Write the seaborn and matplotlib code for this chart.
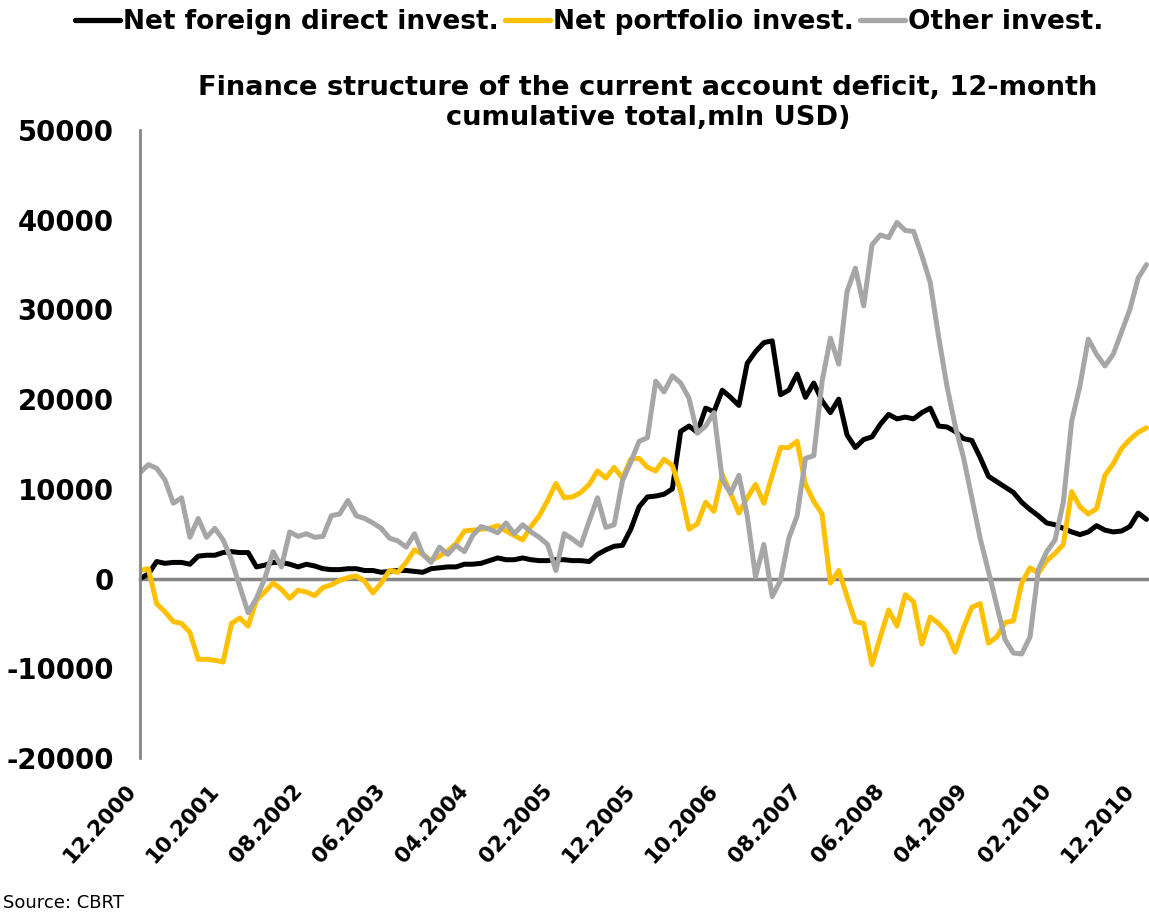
import matplotlib
matplotlib.use('Agg')
import matplotlib.pyplot as plt
import numpy as np
import pandas as pd
import seaborn as sns
from matplotlib.lines import Line2D

# 12-month cumulative totals, mln USD, monthly from 12.2000
fdi = [0, 500, 1900, 1700, 1800, 1800, 1600, 2500, 2600, 2600,
       2900, 3000, 2900, 2900, 1300, 1500, 1800, 1800, 1600, 1300,
       1600, 1400, 1100, 1000, 1000, 1100, 1100, 900, 900, 700,
       800, 900, 900, 800, 700, 1100, 1200, 1300, 1300, 1600,
       1600, 1700, 2000, 2300, 2100, 2100, 2300, 2100, 2000, 2000,
       2100, 2100, 2000, 2000, 1900, 2700, 3200, 3600, 3700, 5500,
       8000, 9100, 9200, 9400, 10000, 16400, 17000, 16300, 19000, 18600,
       21000, 20200, 19300, 24000, 25300, 26300, 26500, 20500, 21000, 22800,
       20200, 21800, 19800, 18500, 20000, 16000, 14600, 15500, 15800, 17200,
       18300, 17800, 18000, 17800, 18500, 19000, 17000, 16900, 16400, 15600,
       15400, 13500, 11400, 10800, 10200, 9600, 8500, 7700, 7000, 6200,
       6000, 5600, 5200, 4900, 5200, 5900, 5400, 5200, 5300, 5800,
       7300, 6600]

portfolio = [900, 1100, -2800, -3700, -4800, -5000, -6000, -9000, -9000, -9100,
             -9300, -5000, -4400, -5300, -2400, -1500, -500, -1200, -2200, -1300,
             -1500, -1900, -1000, -700, -200, 100, 300, -300, -1600, -500,
             900, 700, 1800, 3200, 2700, 2000, 2500, 3100, 3900, 5300,
             5400, 5500, 5600, 5900, 5300, 4800, 4300, 5800, 7000, 8700,
             10600, 9000, 9100, 9600, 10500, 12000, 11200, 12400, 11200, 13300,
             13400, 12400, 12000, 13300, 12600, 9700, 5500, 6100, 8500, 7500,
             11600, 9500, 7300, 9000, 10500, 8400, 11500, 14600, 14600, 15300,
             10500, 8600, 7200, -500, 900, -2000, -4800, -5000, -9600, -6500,
             -3500, -5300, -1800, -2600, -7300, -4300, -5000, -6000, -8200, -5500,
             -3200, -2800, -7200, -6500, -4900, -4700, -500, 1200, 600, 2000,
             2800, 3800, 9700, 8000, 7200, 7800, 11500, 12800, 14500, 15500,
             16300, 16800]

other = [11800, 12700, 12300, 11000, 8400, 9000, 4600, 6700, 4600, 5600,
         4300, 2100, -900, -3800, -2200, 0, 3000, 1300, 5200, 4700,
         5000, 4600, 4700, 7000, 7200, 8700, 7000, 6700, 6200, 5600,
         4500, 4200, 3500, 5000, 2700, 1800, 3500, 2700, 3700, 3000,
         4800, 5800, 5500, 5100, 6200, 5000, 6000, 5200, 4600, 3800,
         900, 5000, 4400, 3700, 6400, 9000, 5700, 6000, 10900, 13000,
         15300, 15700, 22000, 20800, 22600, 21800, 20100, 16200, 17000, 18500,
         11000, 9500, 11500, 7000, 200, 3800, -2000, -200, 4500, 7000,
         13400, 13700, 22000, 26800, 23900, 32000, 34600, 30400, 37200, 38300,
         38000, 39700, 38800, 38700, 36000, 33000, 27000, 21500, 17000, 13500,
         9000, 4500, 800, -3000, -6800, -8300, -8400, -6500, 1000, 3000,
         4300, 8500, 17500, 21500, 26700, 25000, 23700, 25000, 27500, 30000,
         33500, 35000]

series_names = ['Net foreign direct invest.', 'Net portfolio invest.', 'Other invest.']
colors = ['#000000', '#FFC000', '#A6A6A6']

months = pd.date_range('2000-12-01', periods=len(fdi), freq='MS').strftime('%m.%Y')
tick_idx = list(range(0, 121, 10))
tick_labels = [months[i] for i in tick_idx]

df = pd.DataFrame({'month': np.arange(len(fdi)),
                   series_names[0]: fdi,
                   series_names[1]: portfolio,
                   series_names[2]: other})
df = df.melt(id_vars='month', var_name='series', value_name='value')

sns.set_style('white')
plt.rcParams['font.family'] = ['DejaVu Sans']
plt.rcParams['axes.unicode_minus'] = False
plt.rcParams['text.color'] = 'black'

fig = plt.figure(figsize=(11.49, 9.18), dpi=100)
ax = fig.add_axes([140 / 1149, 160 / 918, 1009 / 1149, 628 / 918])

sns.lineplot(data=df, x='month', y='value', hue='series', hue_order=series_names,
             palette=dict(zip(series_names, colors)), lw=3.6, legend=False, ax=ax)

axis_grey = '#868686'
ax.set_xlim(0, 121.3)
ax.set_ylim(-20000, 50000)
ax.set_xlabel('')
ax.set_ylabel('')

for s in ['top', 'right']:
    ax.spines[s].set_visible(False)
ax.spines['left'].set_color(axis_grey)
ax.spines['left'].set_linewidth(2)
ax.spines['bottom'].set_position(('data', 0))
ax.spines['bottom'].set_color(axis_grey)
ax.spines['bottom'].set_linewidth(2.5)
ax.spines['bottom'].set_zorder(1)

ax.set_yticks(range(-20000, 50001, 10000))
ax.tick_params(axis='y', direction='out', length=6, width=2, color=axis_grey,
               labelsize=19.8, labelcolor='black', pad=13)
for lab in ax.get_yticklabels():
    lab.set_fontweight('bold')

ax.set_xticks(tick_idx)
ax.tick_params(axis='x', direction='out', length=7, width=2, color=axis_grey,
               labelbottom=False)

# tick labels sit at the bottom of the plot, not at the zero line
sec = ax.secondary_xaxis('bottom')
sec.set_xticks(tick_idx, tick_labels)
sec.spines['bottom'].set_visible(False)
sec.tick_params(length=0, pad=26, labelcolor='black')
for lab in sec.get_xticklabels():
    lab.set_rotation(48)
    lab.set_ha('right')
    lab.set_va('bottom')
    lab.set_rotation_mode('anchor')
    lab.set_fontweight('bold')
    lab.set_fontsize(15.5)

handles = [Line2D([0], [0], color=c, lw=3.8) for c in colors]
fig.legend(handles, series_names, loc='center left', bbox_to_anchor=(0.045, 0.976),
           ncol=3, frameon=False, prop={'weight': 'bold', 'size': 19},
           handlelength=1.7, handletextpad=0.1, columnspacing=0.25)

fig.text(0.564, 1 - 75 / 918,
         'Finance structure of the current account deficit, 12-month\ncumulative total,mln USD)',
         ha='center', va='top', fontsize=19.6, fontweight='bold', linespacing=1.2)

fig.text(0.003, 1 - 903 / 918, 'Source: CBRT', va='center', fontsize=13)

fig.savefig('out.png', dpi=100)
